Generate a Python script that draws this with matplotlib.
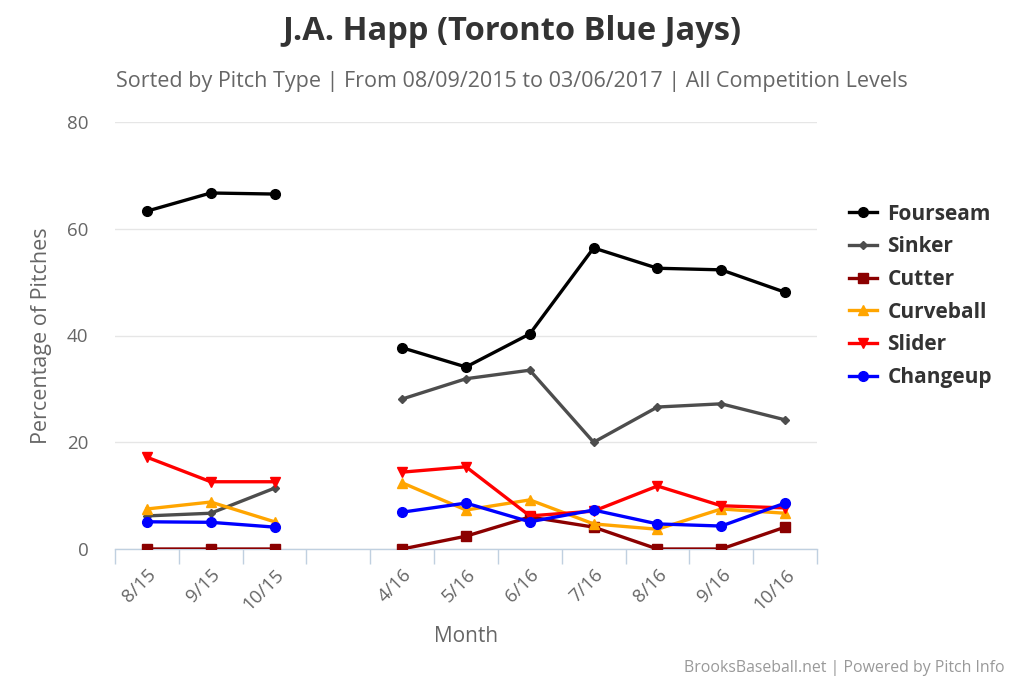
import numpy as np
import matplotlib
matplotlib.use("Agg")
import matplotlib.pyplot as plt

months = ["8/15", "9/15", "10/15", "", "4/16", "5/16", "6/16", "7/16", "8/16", "9/16", "10/16"]
nan = np.nan
fourseam = [63.3, 66.7, 66.5, nan, 37.7, 34.1, 40.3, 56.4, 52.6, 52.3, 48.1]
sinker = [6.2, 6.7, 11.4, nan, 28.1, 31.9, 33.5, 20.0, 26.6, 27.2, 24.2]
cutter = [0.0, 0.0, 0.0, nan, 0.0, 2.4, 6.0, 4.1, 0.0, 0.0, 4.1]
curveball = [7.5, 8.8, 5.1, nan, 12.4, 7.3, 9.2, 4.7, 3.7, 7.5, 6.7]
slider = [17.2, 12.6, 12.6, nan, 14.4, 15.4, 6.2, 7.1, 11.8, 8.1, 7.7]
changeup = [5.1, 5.0, 4.1, nan, 6.9, 8.6, 5.1, 7.3, 4.7, 4.3, 8.6]
y_ticks = [0, 20, 40, 60, 80]

series = [
    ("Fourseam", fourseam, "#000000", "o", 7),
    ("Sinker", sinker, "#4d4d4d", "D", 4.5),
    ("Cutter", cutter, "#8b0000", "s", 7),
    ("Curveball", curveball, "#FFA500", "^", 7),
    ("Slider", slider, "#FF0000", "v", 7),
    ("Changeup", changeup, "#0000FF", "o", 7),
]

plt.rcParams['font.family'] = ['Open Sans', 'DejaVu Sans']

fig = plt.figure(figsize=(10.24, 6.83), dpi=100)
ax = fig.add_axes([115/1024, 1-549/683, 702/1024, (549-122)/683])

x = np.arange(len(months))
handles = []
for name, vals, color, mk, ms in series:
    h, = ax.plot(x, vals, color=color, lw=2.4, marker=mk, markersize=ms,
                 markeredgecolor=color, label=name, zorder=3)
    handles.append(h)

ax.set_xlim(-0.5, len(months) - 0.5)
ax.set_ylim(0, 80)
ax.set_yticks(y_ticks)
ax.set_yticklabels([str(v) for v in y_ticks])
ax.set_xticks(x)
ax.set_xticklabels(months, rotation=45, ha='right', rotation_mode='anchor',
                   color='#666666', fontsize=13.5)
ax.set_xticks(np.arange(-0.5, len(months), 1.0), minor=True)
ax.tick_params(axis='x', which='major', length=0, pad=12)
ax.tick_params(axis='x', which='minor', length=11, color='#C0D0E0', width=1)
ax.tick_params(axis='y', length=0, labelsize=13.5, labelcolor='#666666', pad=19)
ax.grid(axis='y', color='#e6e6e6', lw=1)
ax.set_axisbelow(True)
for s in ['top', 'right', 'left']:
    ax.spines[s].set_visible(False)
ax.spines['bottom'].set_color('#C0D0E0')
ax.spines['bottom'].set_linewidth(1)
ax.spines['bottom'].set_zorder(1)

fig.text(42/1024, 1-336/683, "Percentage of Pitches", rotation=90, ha='center', va='center',
         fontsize=15.5, color='#666666')
fig.text(466/1024, 1-637/683, "Month", ha='center', va='center',
         fontsize=15, color='#666666')

fig.text(0.5, 1-32/683, "J.A. Happ (Toronto Blue Jays)", ha='center', va='center',
         fontsize=23.5, fontweight='bold', color='#333333')
fig.text(0.5, 1-82/683, "Sorted by Pitch Type | From 08/09/2015 to 03/06/2017 | All Competition Levels",
         ha='center', va='center', fontsize=15.5, color='#666666')
fig.text(1005/1024, 1-668/683, "BrooksBaseball.net | Powered by Pitch Info",
         ha='right', va='center', fontsize=11.4, color='#999999')

leg = fig.legend(handles=handles, loc='upper left', bbox_to_anchor=(830/1024, 1-185/683),
                 frameon=False, fontsize=15, handlelength=1.35, labelspacing=0.56,
                 handletextpad=0.5)
for t in leg.get_texts():
    t.set_fontweight('bold')
    t.set_color('#333333')

fig.savefig("out.png", dpi=100, facecolor='white')
